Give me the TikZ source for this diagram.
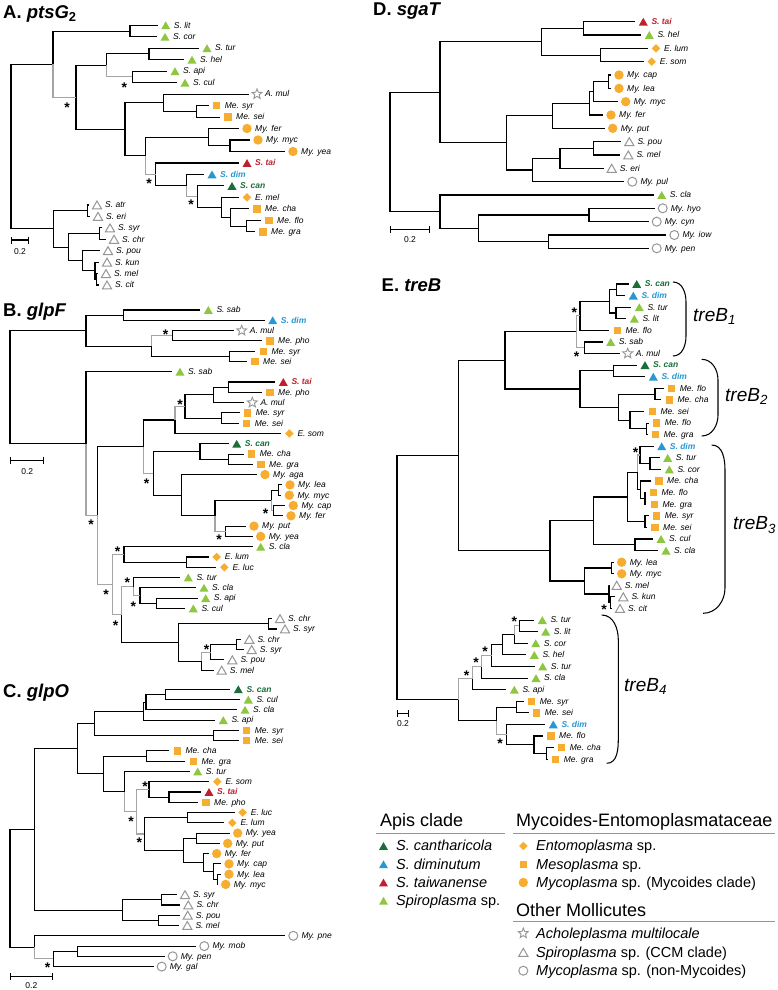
\documentclass[tikz,border=0pt]{standalone}
\usepackage{fontspec}
\setmainfont{Liberation Sans}
\usetikzlibrary{positioning,calc,arrows.meta,shapes.geometric}
\definecolor{canGreen}{RGB}{26,110,58}
\definecolor{dimBlue}{RGB}{38,152,212}
\definecolor{taiRed}{RGB}{192,32,45}
\definecolor{spiGreen}{RGB}{141,198,63}
\definecolor{mycOrange}{RGB}{247,174,48}
\definecolor{mkGray}{RGB}{150,150,150}
\definecolor{brGray}{RGB}{165,165,165}
\newcommand{\canl}[1]{\textcolor{canGreen}{\bfseries #1}}
\newcommand{\diml}[1]{\textcolor{dimBlue}{\bfseries #1}}
\newcommand{\tail}[1]{\textcolor{taiRed}{\bfseries #1}}
% tip: name, branch end x, y, marker style, label
\newcommand{\phytip}[5]{%
  \coordinate (#1) at (#2,#3);
  \node[#4] (#1m) at ([xshift=8pt]#1) {};
  \node[lab] (#1l) at ([xshift=16pt]#1) {#5};}

\begin{document}
\begin{tikzpicture}[x=1pt, y=-1pt,
    br/.style={line width=1.05pt},
    grb/.style={line width=1.05pt, draw=brGray},
    lab/.style={anchor=base west, inner sep=0, yshift=-2.8pt, font=\fontsize{8.5}{10}\selectfont\itshape},
    tri/.style={regular polygon, regular polygon sides=3, minimum size=10.4pt, inner sep=0, fill=#1, yshift=-1.3pt},
    ctri/.style={tri=canGreen},
    btri/.style={tri=dimBlue},
    rtri/.style={tri=taiRed},
    gtri/.style={tri=spiGreen},
    otri/.style={regular polygon, regular polygon sides=3, minimum size=10.6pt, inner sep=0, draw=mkGray, line width=1pt, yshift=-1.3pt},
    sq/.style={rectangle, minimum size=7.4pt, inner sep=0, fill=mycOrange},
    dia/.style={diamond, minimum size=8.6pt, inner sep=0, fill=mycOrange},
    circ/.style={circle, minimum size=9.4pt, inner sep=0, fill=mycOrange},
    ocirc/.style={circle, minimum size=9pt, inner sep=0, draw=mkGray, line width=1pt},
    ostar/.style={star, star points=5, star point ratio=2.3, minimum size=10.5pt, inner sep=0, draw=mkGray, line width=0.9pt},
    ast/.style={inner sep=0, font=\fontsize{14}{14}\selectfont\bfseries, yshift=-3.1pt},
    ttl/.style={anchor=base west, inner sep=0, font=\fontsize{18.5}{22}\selectfont\bfseries},
    brl/.style={anchor=west, inner sep=0, font=\fontsize{19}{22}\selectfont\itshape},
    sbar/.style={line width=1.05pt, {Bar[width=7pt]}-{Bar[width=7pt]}},
    sbl/.style={inner sep=0, font=\fontsize{8.5}{10}\selectfont},
    lgh/.style={anchor=base west, inner sep=0, font=\fontsize{18}{20}\selectfont},
    lgt/.style={anchor=base west, inner sep=0, font=\fontsize{14.5}{16}\selectfont},
    lgl/.style={draw=mkGray, line width=1pt}
]
\fill[white] (0,0) rectangle (778,990);
\useasboundingbox (0,0) rectangle (778,990);

% A. ptsG2
\node[ttl] (tA) at (3,18.5) {A. \textit{ptsG}\textsubscript{2}};
\phytip{a01}{157.7}{25.3}{gtri}{S. lit}
\phytip{a02}{157}{36.8}{gtri}{S. cor}
\phytip{a03}{199}{48.2}{gtri}{S. tur}
\phytip{a04}{184}{59.7}{gtri}{S. hel}
\phytip{a05}{167}{71.2}{gtri}{S. api}
\phytip{a06}{177}{82.7}{gtri}{S. cul}
\phytip{a07}{249}{94.1}{ostar}{A. mul}
\phytip{a08}{208.7}{105.6}{sq}{Me. syr}
\phytip{a09}{220}{117.1}{sq}{Me. sei}
\phytip{a10}{239}{128.5}{circ}{My. fer}
\phytip{a11}{250}{140}{circ}{My. myc}
\phytip{a12}{285}{151.5}{circ}{My. yea}
\phytip{a13}{239}{163}{rtri}{\tail{S. tai}}
\phytip{a14}{204}{174.4}{btri}{\diml{S. dim}}
\phytip{a15}{224}{185.9}{ctri}{\canl{S. can}}
\phytip{a16}{239}{197.4}{dia}{E. mel}
\phytip{a17}{249}{208.8}{sq}{Me. cha}
\phytip{a18}{261}{220.3}{sq}{Me. flo}
\phytip{a19}{255}{231.8}{sq}{Me. gra}
\phytip{a20}{89}{205}{otri}{S. atr}
\phytip{a21}{90}{216.4}{otri}{S. eri}
\phytip{a22}{102}{227.9}{otri}{S. syr}
\phytip{a23}{106}{239.3}{otri}{S. chr}
\phytip{a24}{100}{250.7}{otri}{S. pou}
\phytip{a25}{99}{262.2}{otri}{S. kun}
\phytip{a26}{98}{273.6}{otri}{S. mel}
\phytip{a27}{99}{285}{otri}{S. cit}
\coordinate (aR) at (11,146.56);
\coordinate (aT) at (53,64.19);
\coordinate (aS1) at (130,31.05);
\coordinate (aG) at (76,97.33);
\coordinate (aS4) at (106.7,65.45);
\coordinate (aS2) at (149,53.95);
\coordinate (aS3) at (132.3,76.95);
\coordinate (aF8) at (125,129.21);
\coordinate (aM2) at (163.3,102.73);
\coordinate (aM1) at (196.7,111.35);
\coordinate (aF7) at (145.7,155.7);
\coordinate (aY2) at (208.3,137.13);
\coordinate (aY1) at (230,145.75);
\coordinate (aF6) at (155.7,174.27);
\coordinate (aF5) at (186.7,185.53);
\coordinate (aF4) at (197.3,196.66);
\coordinate (aF3) at (221.7,207.41);
\coordinate (aF2) at (230.7,217.43);
\coordinate (aF1) at (246.7,226.05);
\coordinate (aC7) at (53.3,228.93);
\coordinate (aC1) at (87.3,210.7);
\coordinate (aC6) at (68.3,247.17);
\coordinate (aC2) at (99.3,233.6);
\coordinate (aC5) at (82.3,260.73);
\coordinate (aC4) at (95,270.75);
\coordinate (aC3) at (96.7,279.3);
\foreach \p/\c in {aR/aT, aR/aC7, aT/aS1, aS1/a01, aS1/a02, aG/aS4, aG/aF8, aS4/aS2,
    aS2/a03, aS2/a04, aS3/a05, aS3/a06, aF8/aM2, aF8/aF7, aM2/a07, aM2/aM1, aM1/a08,
    aM1/a09, aF7/aY2, aY2/a10, aY2/aY1, aY1/a11, aY1/a12, aF6/a13, aF6/aF5, aF5/a14,
    aF4/a15, aF4/aF3, aF3/a16, aF3/aF2, aF2/a17, aF2/aF1, aF1/a18, aF1/a19, aC7/aC1,
    aC7/aC6, aC1/a20, aC1/a21, aC6/aC2, aC6/aC5, aC2/a22, aC2/a23, aC5/a24, aC5/aC4,
    aC4/a25, aC4/aC3, aC3/a26, aC3/a27}
  \draw[br] (\p) |- (\c);
\foreach \p/\c in {aT/aG, aS4/aS3, aF7/aF6, aF5/aF4}
  \draw[grb] (\p) |- (\c);
\coordinate (sA0) at (11,240); \coordinate (sA1) at (29,240);
\draw[sbar] (sA0) -- (sA1);
\node[sbl] (sAl) at (20,252) {0.2};

% B. glpF
\node[ttl] (tB) at (3,316) {B. \textit{glpF}};
\phytip{b00}{200.3}{310}{gtri}{S. sab}
\phytip{b01}{264.7}{320.3}{btri}{\diml{S. dim}}
\phytip{b02}{233.7}{330.6}{ostar}{A. mul}
\phytip{b03}{262}{340.9}{sq}{Me. pho}
\phytip{b04}{255.3}{351.2}{sq}{Me. syr}
\phytip{b05}{247}{361.5}{sq}{Me. sei}
\phytip{b06}{172}{371.7}{gtri}{S. sab}
\phytip{b07}{275.3}{382}{rtri}{\tail{S. tai}}
\phytip{b08}{262}{392.3}{sq}{Me. pho}
\phytip{b09}{244.3}{402.6}{ostar}{A. mul}
\phytip{b10}{239.7}{412.9}{sq}{Me. syr}
\phytip{b11}{238.7}{423.2}{sq}{Me. sei}
\phytip{b12}{281.3}{433.5}{dia}{E. som}
\phytip{b13}{228.7}{443.8}{ctri}{\canl{S. can}}
\phytip{b14}{243.7}{454.1}{sq}{Me. cha}
\phytip{b15}{253}{464.4}{sq}{Me. gra}
\phytip{b16}{257}{474.6}{circ}{My. aga}
\phytip{b17}{282}{484.9}{circ}{My. lea}
\phytip{b18}{281.3}{495.2}{circ}{My. myc}
\phytip{b19}{285.3}{505.5}{circ}{My. cap}
\phytip{b20}{283}{515.8}{circ}{My. fer}
\phytip{b21}{246}{526.1}{circ}{My. put}
\phytip{b22}{252.7}{536.4}{circ}{My. yea}
\phytip{b23}{252.7}{546.7}{gtri}{S. cla}
\phytip{b24}{208.7}{557}{dia}{E. lum}
\phytip{b25}{216.3}{567.3}{dia}{E. luc}
\phytip{b26}{180.3}{577.5}{gtri}{S. tur}
\phytip{b27}{196}{587.8}{gtri}{S. cla}
\phytip{b28}{197.7}{598.1}{gtri}{S. api}
\phytip{b29}{185.3}{608.4}{gtri}{S. cul}
\phytip{b30}{272}{618.7}{otri}{S. chr}
\phytip{b31}{277}{629}{otri}{S. syr}
\phytip{b32}{241.3}{639.3}{otri}{S. chr}
\phytip{b33}{243.7}{649.6}{otri}{S. syr}
\phytip{b34}{224.3}{659.9}{otri}{S. pou}
\phytip{b35}{213.7}{670.2}{otri}{S. mel}
\coordinate (bRoot) at (10,387.1);
\coordinate (bA5) at (86,330.6);
\coordinate (bA1) at (123.3,315.15);
\coordinate (bA4) at (151.7,346.05);
\coordinate (bA2) at (172.3,335.75);
\coordinate (bA3) at (229.3,356.35);
\coordinate (bR2) at (86,443.65);
\coordinate (bQ) at (97.7,515.6);
\coordinate (bP) at (143.3,446.7);
\coordinate (bB5) at (175,420);
\coordinate (bB4) at (185,406.5);
\coordinate (bB2) at (213.3,394.9);
\coordinate (bB1) at (228.3,387.15);
\coordinate (bB3) at (221.7,418.05);
\coordinate (bD7) at (153.3,473.35);
\coordinate (bC2) at (200,451.5);
\coordinate (bC1) at (228.3,459.25);
\coordinate (bD6) at (181.7,495.2);
\coordinate (bD5) at (215,515.8);
\coordinate (bD3) at (271.7,500.35);
\coordinate (bD1) at (278.3,490.05);
\coordinate (bD2) at (273.3,510.65);
\coordinate (bD4) at (225.7,531.25);
\coordinate (bX) at (112.7,584.45);
\coordinate (bE2) at (124,554.4);
\coordinate (bE1) at (186.7,562.15);
\coordinate (bF4) at (121.7,614.5);
\coordinate (bF3) at (133.3,586.5);
\coordinate (bF2) at (140,595.5);
\coordinate (bF1) at (156.7,603.25);
\coordinate (bG5) at (178.3,642.5);
\coordinate (bG1) at (268.3,623.85);
\coordinate (bG4) at (201.7,661.2);
\coordinate (bG3) at (210.7,652.2);
\coordinate (bG2) at (236.7,644.45);
\foreach \p/\c in {bRoot/bA5, bRoot/bR2, bA5/bA1, bA5/bA4, bA1/b00, bA1/b01, bA4/bA3,
    bA2/b02, bA2/b03, bA3/b04, bA3/b05, bR2/b06, bQ/bP, bP/bB5, bB5/b12, bB4/bB2,
    bB4/bB3, bB2/bB1, bB2/b09, bB1/b07, bB1/b08, bB3/b10, bB3/b11, bD7/bC2, bD7/bD6,
    bC2/b13, bC2/bC1, bC1/b14, bC1/b15, bD6/b16, bD6/bD5, bD5/bD3, bD3/bD1, bD1/b17,
    bD1/b18, bD2/b19, bD2/b20, bD4/b21, bD4/b22, bE2/b23, bE2/bE1, bE1/b24, bE1/b25,
    bF4/bG5, bF3/b26, bF2/b27, bF2/bF1, bF1/b28, bF1/b29, bG5/bG1, bG5/bG4, bG1/b30,
    bG1/b31, bG4/b35, bG3/bG2, bG3/b34, bG2/b32, bG2/b33}
  \draw[br] (\p) |- (\c);
\foreach \p/\c in {bA4/bA2, bR2/bQ, bQ/bX, bP/bD7, bB5/bB4, bD3/bD2, bD5/bD4, bX/bE2,
    bX/bF4, bF4/bF3, bF3/bF2, bG4/bG3}
  \draw[grb] (\p) |- (\c);
\coordinate (sB0) at (10,460.7); \coordinate (sB1) at (44.3,460.7);
\draw[sbar] (sB0) -- (sB1);
\node[sbl] (sBl) at (27.2,471.5) {0.2};

% C. glpO
\node[ttl] (tC) at (3,697) {C. \textit{glpO}};
\phytip{c00}{230.3}{689.3}{ctri}{\canl{S. can}}
\phytip{c01}{240.3}{699.6}{gtri}{S. cul}
\phytip{c02}{237}{709.8}{gtri}{S. cla}
\phytip{c03}{215.3}{720.1}{gtri}{S. api}
\phytip{c04}{238.7}{730.4}{sq}{Me. syr}
\phytip{c05}{238.7}{740.7}{sq}{Me. sei}
\phytip{c06}{169.3}{750.9}{sq}{Me. cha}
\phytip{c07}{185.3}{761.2}{sq}{Me. gra}
\phytip{c08}{189.7}{771.5}{gtri}{S. tur}
\phytip{c09}{209.3}{781.7}{dia}{E. som}
\phytip{c10}{201}{792}{rtri}{\tail{S. tai}}
\phytip{c11}{198}{802.3}{sq}{Me. pho}
\phytip{c12}{234.7}{812.5}{dia}{E. luc}
\phytip{c13}{224.3}{822.8}{dia}{E. lum}
\phytip{c14}{229.7}{833.1}{circ}{My. yea}
\phytip{c15}{219.7}{843.4}{circ}{My. put}
\phytip{c16}{208.7}{853.6}{circ}{My. fer}
\phytip{c17}{221}{863.9}{circ}{My. cap}
\phytip{c18}{221}{874.2}{circ}{My. lea}
\phytip{c19}{217.7}{884.4}{circ}{My. myc}
\phytip{c20}{177}{894.7}{otri}{S. syr}
\phytip{c21}{180.3}{905}{otri}{S. chr}
\phytip{c22}{179.7}{915.2}{otri}{S. pou}
\phytip{c23}{179.3}{925.5}{otri}{S. mel}
\phytip{c24}{285.3}{935.8}{ocirc}{My. pne}
\phytip{c25}{196.3}{946.1}{ocirc}{My. mob}
\phytip{c26}{164.7}{956.3}{ocirc}{My. pen}
\phytip{c27}{153.7}{966.6}{ocirc}{My. gal}
\coordinate (cRoot) at (10,888.3);
\coordinate (cN) at (34.3,829.3);
\coordinate (cTop1) at (77.7,748.55);
\coordinate (cA5) at (94.3,723.3);
\coordinate (cA3) at (143.5,711.1);
\coordinate (cA2) at (146,702.1);
\coordinate (cA1) at (165.7,694.45);
\coordinate (cA4) at (213.3,735.55);
\coordinate (cB2) at (103.3,773.8);
\coordinate (cB1) at (146.7,756.05);
\coordinate (cY) at (124.3,791.6);
\coordinate (cX) at (136.7,811.7);
\coordinate (cC2) at (149,789.4);
\coordinate (cC1) at (169,797.15);
\coordinate (cD7) at (144.3,834);
\coordinate (cD1) at (187.7,817.65);
\coordinate (cD6) at (183.3,850.4);
\coordinate (cD2) at (196.7,838.25);
\coordinate (cD5) at (203.3,862.6);
\coordinate (cD4) at (213.3,871.6);
\coordinate (cD3) at (217.3,879.3);
\coordinate (cS3) at (122.7,910.1);
\coordinate (cS1) at (161.7,899.85);
\coordinate (cS2) at (158.3,920.35);
\coordinate (cM3) at (34.3,947.35);
\coordinate (cM2) at (53.3,958.9);
\coordinate (cM1) at (77.7,951.2);
\foreach \p/\c in {cRoot/cN, cRoot/cM3, cN/cTop1, cN/cS3, cTop1/cA5, cTop1/cB2, cA5/cA3,
    cA5/cA4, cA3/cA2, cA3/c03, cA2/cA1, cA2/c02, cA1/c00, cA1/c01, cA4/c04, cA4/c05,
    cB2/cB1, cB2/cY, cB1/c06, cB1/c07, cY/c08, cC2/c09, cC2/cC1, cC1/c10, cC1/c11,
    cD7/cD1, cD7/cD6, cD1/c12, cD1/c13, cD6/cD2, cD6/cD5, cD2/c14, cD2/c15, cD5/c16,
    cD5/cD4, cD4/c17, cD4/cD3, cD3/c18, cD3/c19, cS3/cS1, cS3/cS2, cS1/c20, cS1/c21,
    cS2/c22, cS2/c23, cM3/c24, cM2/cM1, cM2/c27, cM1/c25, cM1/c26}
  \draw[br] (\p) |- (\c);
\foreach \p/\c in {cY/cX, cX/cC2, cX/cD7, cM3/cM2}
  \draw[grb] (\p) |- (\c);
\coordinate (sC0) at (10,976.7); \coordinate (sC1) at (52.7,976.7);
\draw[sbar] (sC0) -- (sC1);
\node[sbl] (sCl) at (31.4,985.5) {0.2};

% D. sgaT
\node[ttl] (tD) at (373,16) {D. \textit{sgaT}};
\phytip{d00}{635.3}{21.7}{rtri}{\tail{S. tai}}
\phytip{d01}{641.3}{35}{gtri}{S. hel}
\phytip{d02}{648}{48.4}{dia}{E. lum}
\phytip{d03}{643.7}{61.7}{dia}{E. som}
\phytip{d04}{611}{75}{circ}{My. cap}
\phytip{d05}{611}{88.4}{circ}{My. lea}
\phytip{d06}{617.7}{101.7}{circ}{My. myc}
\phytip{d07}{603}{115}{circ}{My. fer}
\phytip{d08}{604.7}{128.3}{circ}{My. put}
\phytip{d09}{621.3}{141.7}{otri}{S. pou}
\phytip{d10}{620.3}{155}{otri}{S. mel}
\phytip{d11}{603.7}{168.3}{otri}{S. eri}
\phytip{d12}{624.3}{181.7}{ocirc}{My. pul}
\phytip{d13}{653.7}{195}{gtri}{S. cla}
\phytip{d14}{654.7}{208.3}{ocirc}{My. hyo}
\phytip{d15}{648.7}{221.7}{ocirc}{My. cyn}
\phytip{d16}{666.3}{235}{ocirc}{My. iow}
\phytip{d17}{648.7}{248.3}{ocirc}{My. pen}
\coordinate (dRoot) at (390,152);
\coordinate (dT) at (440,92.3);
\coordinate (dA3) at (541.7,41.7);
\coordinate (dA1) at (583.3,28.35);
\coordinate (dA2) at (600.7,55.05);
\coordinate (dB5) at (506.7,142.9);
\coordinate (dB4) at (552.7,115.8);
\coordinate (dB3) at (589.3,103.35);
\coordinate (dB2) at (593.3,91.7);
\coordinate (dB1) at (608.3,81.7);
\coordinate (dC3) at (532.3,170);
\coordinate (dC2) at (560,158.3);
\coordinate (dC1) at (593.3,148.35);
\coordinate (dE4) at (440,211.65);
\coordinate (dE3) at (478.3,228.3);
\coordinate (dE1) at (589,215);
\coordinate (dE2) at (548.3,241.65);
\foreach \p/\c in {dRoot/dT, dRoot/dE4, dT/dA3, dT/dB5, dA3/dA1, dA3/dA2, dA1/d00,
    dA1/d01, dA2/d02, dA2/d03, dB5/dB4, dB5/dC3, dB4/dB3, dB4/d08, dB3/dB2, dB3/d07,
    dB2/dB1, dB2/d06, dB1/d04, dB1/d05, dC3/dC2, dC3/d12, dC2/dC1, dC2/d11, dC1/d09,
    dC1/d10, dE4/d13, dE4/dE3, dE3/dE1, dE3/dE2, dE1/d14, dE1/d15, dE2/d16, dE2/d17}
  \draw[br] (\p) |- (\c);
\coordinate (sD0) at (390,229.3); \coordinate (sD1) at (430,229.3);
\draw[sbar] (sD0) -- (sD1);
\node[sbl] (sDl) at (410,239.5) {0.2};

% E. treB
\node[ttl] (tE) at (381.5,291.7) {E. \textit{treB}};
\phytip{e00}{628.7}{284}{ctri}{\canl{S. can}}
\phytip{e01}{625.3}{295.6}{btri}{\diml{S. dim}}
\phytip{e02}{631.3}{307.2}{gtri}{S. tur}
\phytip{e03}{626.3}{318.8}{gtri}{S. lit}
\phytip{e04}{609.3}{330.4}{sq}{Me. flo}
\phytip{e05}{602.7}{342}{gtri}{S. sab}
\phytip{e06}{619.7}{353.5}{ostar}{A. mul}
\phytip{e07}{637}{365.1}{ctri}{\canl{S. can}}
\phytip{e08}{645.3}{376.7}{btri}{\diml{S. dim}}
\phytip{e09}{663.7}{388.3}{sq}{Me. flo}
\phytip{e10}{661.3}{399.9}{sq}{Me. cha}
\phytip{e11}{644.3}{411.5}{sq}{Me. sei}
\phytip{e12}{648.7}{423.1}{sq}{Me. flo}
\phytip{e13}{647.7}{434.7}{sq}{Me. gra}
\phytip{e14}{653.7}{446.3}{btri}{\diml{S. dim}}
\phytip{e15}{659.7}{457.9}{gtri}{S. tur}
\phytip{e16}{661.3}{469.4}{gtri}{S. cor}
\phytip{e17}{651}{481}{sq}{Me. cha}
\phytip{e18}{645.3}{492.6}{sq}{Me. flo}
\phytip{e19}{646.3}{504.2}{sq}{Me. gra}
\phytip{e20}{648.7}{515.8}{sq}{Me. syr}
\phytip{e21}{647}{527.4}{sq}{Me. sei}
\phytip{e22}{653}{539}{gtri}{S. cul}
\phytip{e23}{658}{550.6}{gtri}{S. cla}
\phytip{e24}{613.7}{562.2}{circ}{My. lea}
\phytip{e25}{613.7}{573.8}{circ}{My. myc}
\phytip{e26}{608.7}{585.3}{otri}{S. mel}
\phytip{e27}{615.3}{596.9}{otri}{S. kun}
\phytip{e28}{612}{608.5}{otri}{S. cit}
\phytip{e29}{534.3}{620.1}{gtri}{S. tur}
\phytip{e30}{537.7}{631.7}{gtri}{S. lit}
\phytip{e31}{527.7}{643.3}{gtri}{S. cor}
\phytip{e32}{526.3}{654.9}{gtri}{S. hel}
\phytip{e33}{534.7}{666.5}{gtri}{S. tur}
\phytip{e34}{528}{678.1}{gtri}{S. cla}
\phytip{e35}{506.3}{689.7}{gtri}{S. api}
\phytip{e36}{523.7}{701.3}{sq}{Me. syr}
\phytip{e37}{528.7}{712.8}{sq}{Me. sei}
\phytip{e38}{545.3}{724.4}{btri}{\diml{S. dim}}
\phytip{e39}{543}{736}{sq}{Me. flo}
\phytip{e40}{553.7}{747.6}{sq}{Me. cha}
\phytip{e41}{547.7}{759.2}{sq}{Me. gra}
\coordinate (eRoot) at (397,577.6);
\coordinate (eF) at (458.3,455.7);
\coordinate (eC) at (505,360.4);
\coordinate (eA6) at (576.7,331.8);
\coordinate (eA4) at (580,315.9);
\coordinate (eA3) at (609.3,301.4);
\coordinate (eA1) at (616.7,289.8);
\coordinate (eA2) at (616,313);
\coordinate (eA5) at (584.3,347.75);
\coordinate (eB6) at (580,389);
\coordinate (eB1) at (613.3,370.9);
\coordinate (eB5) at (618.3,407.15);
\coordinate (eB2) at (655,394.1);
\coordinate (eB4) at (630,420.2);
\coordinate (eB3) at (646.7,428.9);
\coordinate (eE5) at (550,550.95);
\coordinate (eD9) at (593.3,520.9);
\coordinate (eD7) at (627.7,496.97);
\coordinate (eD5) at (637.3,472.34);
\coordinate (eD2) at (640,454.98);
\coordinate (eD1) at (650,463.65);
\coordinate (eD4) at (640.7,489.7);
\coordinate (eD3) at (645,498.4);
\coordinate (eD6) at (645,521.6);
\coordinate (eD8) at (635,544.8);
\coordinate (eE4) at (584.3,581);
\coordinate (eE1) at (611.7,568);
\coordinate (eE3) at (609,594);
\coordinate (eE2) at (610.7,602.7);
\coordinate (eI) at (458.3,699.55);
\coordinate (eG6) at (472.7,678.3);
\coordinate (eG5) at (481.7,666.85);
\coordinate (eG4) at (491.7,655.6);
\coordinate (eG3) at (502.7,644.75);
\coordinate (eG2) at (514.3,634.6);
\coordinate (eG1) at (519.3,625.9);
\coordinate (eH5) at (496.7,720.8);
\coordinate (eH1) at (516.7,707.05);
\coordinate (eH4) at (506.7,734.55);
\coordinate (eH3) at (534,744.7);
\coordinate (eH2) at (546.7,753.4);
\foreach \p/\c in {eRoot/eF, eRoot/eI, eF/eC, eF/eE5, eC/eA6, eC/eB6, eA4/eA3, eA4/e04,
    eA3/eA1, eA3/eA2, eA1/e00, eA1/e01, eA2/e02, eA2/e03, eA5/e05, eA5/e06, eB6/eB1,
    eB6/eB5, eB1/e07, eB1/e08, eB5/eB2, eB5/eB4, eB2/e09, eB2/e10, eB4/e11, eB4/eB3,
    eB3/e12, eB3/e13, eE5/eD9, eE5/eE4, eD9/eD7, eD9/eD8, eD7/eD5, eD7/eD6, eD5/eD4,
    eD2/e14, eD2/eD1, eD1/e15, eD1/e16, eD4/e17, eD4/eD3, eD3/e18, eD3/e19, eD6/e20,
    eD6/e21, eD8/e22, eD8/e23, eE4/eE1, eE4/eE3, eE1/e24, eE1/e25, eE3/e26, eE3/eE2,
    eE2/e27, eE2/e28, eI/eH5, eG6/e35, eG5/e34, eG4/eG3, eG4/e33, eG3/eG2, eG3/e32,
    eG2/e31, eG1/e29, eG1/e30, eH5/eH1, eH1/e36, eH1/e37, eH4/e38, eH4/eH3, eH3/e39,
    eH3/eH2, eH2/e40, eH2/e41}
  \draw[br] (\p) |- (\c);
\foreach \p/\c in {eA6/eA4, eA6/eA5, eD5/eD2, eI/eG6, eG6/eG5, eG5/eG4, eG2/eG1, eH5/eH4}
  \draw[grb] (\p) |- (\c);
\coordinate (sE0) at (397,713.5); \coordinate (sE1) at (409,713.5);
\draw[sbar] (sE0) -- (sE1);
\node[sbl] (sEl) at (403,723.5) {0.2};

% treB brackets
\coordinate (k1t) at (673,282); \coordinate (k1b) at (673,356);
\draw[br] (k1t) to[out=0,in=90] (686,302) -- (686,336) to[out=-90,in=0] (k1b);
\node[brl] (k1l) at (693,316.7) {treB\textsubscript{1}};
\coordinate (k2t) at (701.7,359.3); \coordinate (k2b) at (701.7,436);
\draw[br] (k2t) to[out=0,in=90] (718,380) -- (718,415) to[out=-90,in=0] (k2b);
\node[brl] (k2l) at (725,396.7) {treB\textsubscript{2}};
\coordinate (k3t) at (711.7,445); \coordinate (k3b) at (703,613.3);
\draw[br] (k3t) to[out=0,in=90] (725,470) -- (725,588) to[out=-90,in=0] (k3b);
\node[brl] (k3l) at (733,525) {treB\textsubscript{3}};
\coordinate (k4t) at (601.7,615); \coordinate (k4b) at (606.7,763.3);
\draw[br] (k4t) to[out=0,in=90] (618.3,640) -- (618.3,738) to[out=-90,in=0] (k4b);
\node[brl] (k4l) at (624,686.7) {treB\textsubscript{4}};

% asterisks
\foreach \n/\dx/\dy in {aG/-9/7.7, aS3/-8/7.4, aF6/-6.7/6.8, aF4/-6.3/5,
    bA2/-6.6/-4, bB4/-5/-4.8, bD2/-7.6/0, bD4/-6.7/5.5, bD7/-6.6/7.3, bE2/-6.3/-6.1,
    bF2/-6.7/7.8, bF3/-6/-6.5, bF4/-6/8.2, bX/-6.7/7.3, bQ/-6.7/6.1, bG3/-4/-5.5,
    cC2/-4/-6.1, cX/-5.7/6.6, cD7/-5/6, cM2/-5.6/6.1,
    eA4/-5.7/-5.9, eA5/-7.6/5.5, eD2/-4.3/-5, eE2/-6.7/4, eG1/-5/-6.9, eG4/-6.7/-7.3,
    eG5/-5.7/-7.5, eG6/-6/-6, eH4/-6.7/6.1}
  \node[ast] (\n s) at ([shift={(\dx,\dy)}]\n) {*};

% legend
\node[lgh] (lgA) at (380,826) {Apis clade};
\coordinate (lgA0) at (376,833.3); \coordinate (lgA1) at (505,833.3);
\draw[lgl] (lgA0) -- (lgA1);
\node[ctri] (lg1m) at (383.5,846) {};
\node[lgt] (lg1) at (396,850.9) {\textit{S. cantharicola}};
\node[btri] (lg2m) at (383.5,864.3) {};
\node[lgt] (lg2) at (396,869.2) {\textit{S. diminutum}};
\node[rtri] (lg3m) at (383.5,882.5) {};
\node[lgt] (lg3) at (396,887.4) {\textit{S. taiwanense}};
\node[gtri] (lg4m) at (383.5,900.8) {};
\node[lgt] (lg4) at (396,905.7) {\textit{Spiroplasma} sp.};
\node[lgh] (lgB) at (516,826) {Mycoides-Entomoplasmataceae};
\coordinate (lgB0) at (513.3,833.3); \coordinate (lgB1) at (775,833.3);
\draw[lgl] (lgB0) -- (lgB1);
\node[dia] (lg5m) at (523.3,846) {};
\node[lgt] (lg5) at (536,850.9) {\textit{Entomoplasma} sp.};
\node[sq] (lg6m) at (523.3,864.3) {};
\node[lgt] (lg6) at (536,869.2) {\textit{Mesoplasma} sp.};
\node[circ] (lg7m) at (523.3,882.5) {};
\node[lgt] (lg7) at (536,887.4) {\textit{Mycoplasma} sp. (Mycoides clade)};
\node[lgh] (lgC) at (516,916) {Other Mollicutes};
\coordinate (lgC0) at (513.3,921.7); \coordinate (lgC1) at (775,921.7);
\draw[lgl] (lgC0) -- (lgC1);
\node[ostar] (lg8m) at (523.3,933.3) {};
\node[lgt] (lg8) at (536,938.2) {\textit{Acholeplasma multilocale}};
\node[otri] (lg9m) at (523.3,952.3) {};
\node[lgt] (lg9) at (536,957.2) {\textit{Spiroplasma} sp. (CCM clade)};
\node[ocirc] (lg10m) at (523.3,970.7) {};
\node[lgt] (lg10) at (536,975.6) {\textit{Mycoplasma} sp. (non-Mycoides)};
\end{tikzpicture}
\end{document}
